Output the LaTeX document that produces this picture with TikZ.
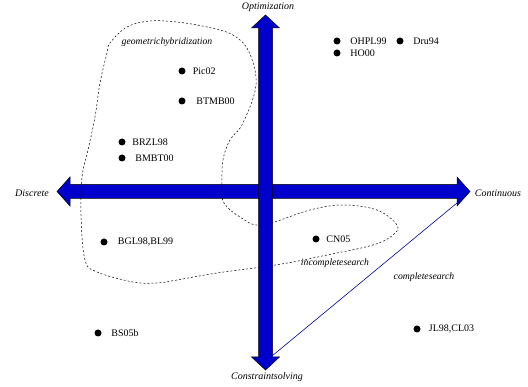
\documentclass[tikz,border=0pt]{standalone}
\usepackage{fontspec}
\setmainfont{Liberation Serif}
\usetikzlibrary{positioning}
\definecolor{axisblue}{RGB}{0,0,204}
\definecolor{lineblue}{RGB}{0,0,150}

\begin{document}
\begin{tikzpicture}[
    x=1pt, y=-1pt,
    axisbar/.style={draw=black, line width=0.5pt, fill=axisblue},
    dot/.style={circle, fill=black, inner sep=0pt, minimum size=7pt},
    work/.style={inner sep=0pt, font=\fontsize{10}{12}\selectfont},
    region/.style={inner sep=0pt, font=\itshape\fontsize{9.7}{12}\selectfont},
    axislabel/.style={inner sep=0pt, font=\itshape\fontsize{10}{12}\selectfont},
    border/.style={line width=0.5pt, dash pattern=on 2pt off 2pt}
]
\useasboundingbox (0,0) rectangle (528,387);

% Discrete <-> Continuous axis
\draw[axisbar] (57,191.5) -- (70,177) -- (70,184.5) -- (457,184.5) -- (457,177) -- (470,191.5)
    -- (457,206) -- (457,198.5) -- (70,198.5) -- (70,206) -- cycle;

% Hybridization region
\draw[border] plot[smooth cycle, tension=0.6] coordinates {
    (110,43) (127,27) (150,21) (177,22) (207,27) (233,35) (249,52) (256,85)
    (243,123) (230,140) (223,160) (222,187) (224,203) (240,217) (262,225)
    (310,210) (343,205) (377,210) (397,225) (393,235) (373,245) (327,255)
    (293,262) (262,267) (217,273) (177,280) (157,283) (133,282) (97,272)
    (85,260) (81,215) (82,177) (88,150) (95,117) (100,83) (107,53)};

% Optimization <-> Constraint solving axis
\draw[axisbar] (265.5,15) -- (279.5,28) -- (272.5,28) -- (272.5,357) -- (279.5,357) -- (265.5,370)
    -- (251.5,357) -- (258.5,357) -- (258.5,28) -- (251.5,28) -- cycle;

% Axis labels
\node[axislabel] (opt) at (268,7) {Optimization};
\node[axislabel] (cs) at (267,377) {Constraintsolving};
\node[axislabel] (disc) at (32,193) {Discrete};
\node[axislabel] (cont) at (498,193) {Continuous};

% Complete search boundary
\coordinate (csfoot) at (272,356);
\coordinate (conttip) at (463,198);
\draw[lineblue, line width=0.6pt] (csfoot) -- (conttip);

% Region labels
\node[region] (geo) at (167,42) {geometrichybridization};
\node[region] (inc) at (335,263) {incompletesearch};
\node[region] (comp) at (424,277) {completesearch};

% Works
\node[dot] (pic) at (182,71) {};
\node[work, right=7pt of pic] {Pic02};
\node[dot] (btmb) at (182,101) {};
\node[work, right=10.5pt of btmb] {BTMB00};
\node[dot] (brzl) at (122,142) {};
\node[work, right=6.5pt of brzl] {BRZL98};
\node[dot] (bmbt) at (122,158) {};
\node[work, right=9.5pt of bmbt] {BMBT00};
\node[dot] (ohpl) at (337,41) {};
\node[work, right=9.5pt of ohpl] {OHPL99};
\node[dot] (dru) at (400,41) {};
\node[work, right=9.5pt of dru] {Dru94};
\node[dot] (ho) at (337,53) {};
\node[work, right=9.5pt of ho] {HO00};
\node[dot] (bgl) at (104,242) {};
\node[work, right=10pt of bgl] {BGL98,BL99};
\node[dot] (bs) at (98,333) {};
\node[work, right=9.5pt of bs] {BS05b};
\node[dot] (cn) at (316,239) {};
\node[work, right=6.5pt of cn] {CN05};
\node[dot] (jl) at (417,329) {};
\node[work, right=8pt of jl] {JL98,CL03};

\end{tikzpicture}
\end{document}
